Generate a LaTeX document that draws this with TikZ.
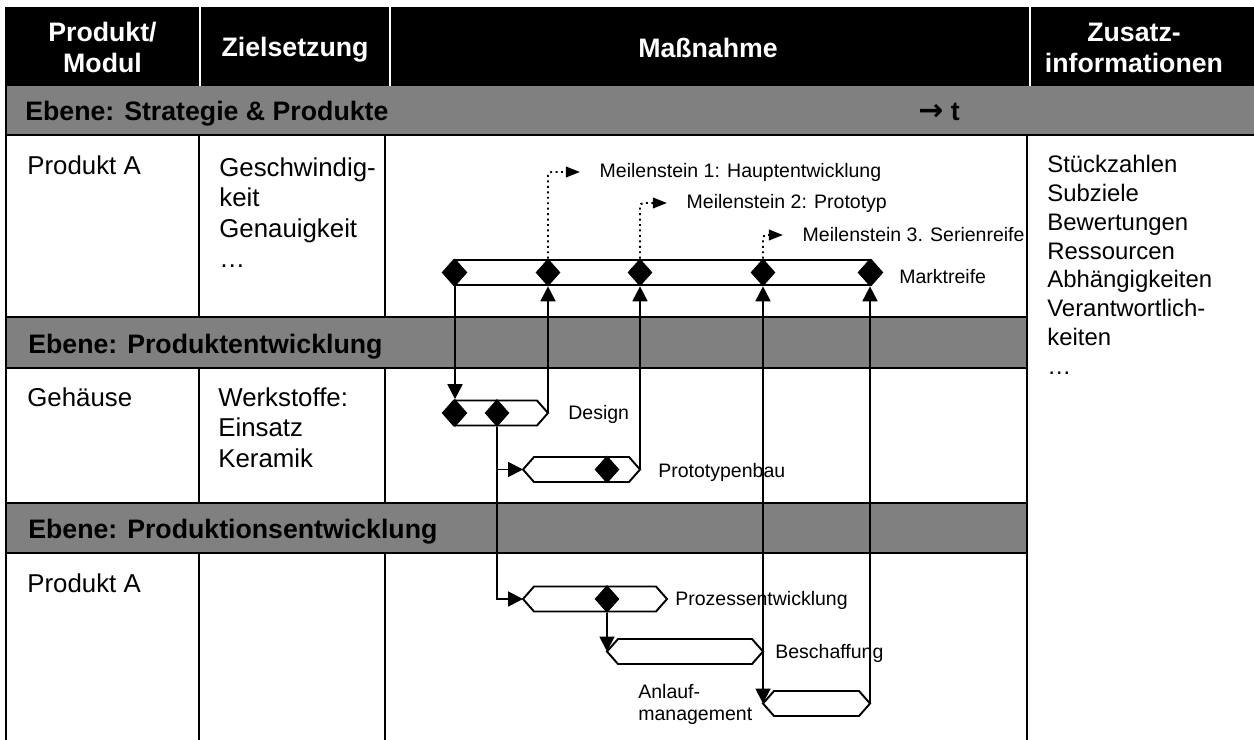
\documentclass[tikz,border=0pt]{standalone}
\usepackage{fontspec}
\setmainfont{Liberation Sans}
\newfontfamily\arrowfont{DejaVu Sans}
\usetikzlibrary{arrows.meta,shapes.geometric}

% Balken mit Spitzen: Name, x links, x rechts, y Mitte
\newcommand{\actbar}[4]{%
  \coordinate (#1-w) at (#2,#4);
  \coordinate (#1-e) at (#3,#4);
  \draw[actbar] (#2,#4) -- (#2+11,#4-12.5) -- (#3-11,#4-12.5) -- (#3,#4)
    -- (#3-11,#4+12.5) -- (#2+11,#4+12.5) -- cycle;
}

\begin{document}
\begin{tikzpicture}[
  x=0.02cm, y=-0.02cm,
  >={Triangle[length=8.5pt,width=8.5pt]},
  headtext/.style={text=white, font=\fontsize{15.2}{17.6}\selectfont\bfseries, align=center, inner sep=0pt, anchor=base},
  bandtext/.style={font=\fontsize{15.2}{17.6}\selectfont\bfseries, inner sep=0pt, anchor=base west},
  celltext/.style={font=\fontsize{14.7}{17.3}\selectfont, align=left, inner sep=0pt, anchor=base west},
  infotext/.style={font=\fontsize{13.6}{16.4}\selectfont, align=left, inner sep=0pt, anchor=base west},
  barlabel/.style={font=\fontsize{11.1}{12.5}\selectfont, align=left, inner sep=0pt, anchor=base west},
  mslabel/.style={font=\fontsize{11.1}{12.5}\selectfont, inner xsep=11pt, inner ysep=0pt, anchor=west},
  gridline/.style={line width=1.1pt},
  band/.style={fill=black!50, draw=black, line width=1.1pt},
  actbar/.style={draw=black, fill=white, line width=1.1pt},
  milestone/.style={diamond, fill=black, draw=black, inner sep=0pt, minimum width=0.48cm, minimum height=0.54cm},
  flow/.style={->, line width=1.1pt},
  pointer/.style={-{Triangle[length=8pt,width=6pt]}, dotted, line width=1.1pt, rounded corners=2pt}
]
\useasboundingbox (0,0) rectangle (1254,740);

% Kopfzeile (mehrzeilige Knoten: base = letzte Zeile)
\fill[black] (5,7) rectangle (1254,86);
\foreach \x in {200,390,1030}
  \draw[white, line width=0.6pt] (\x,7) -- (\x,86);
\node[headtext] (hprod) at (102.5,72) {Produkt/\\Modul};
\node[headtext] (hziel) at (295,57) {Zielsetzung};
\node[headtext] (hmass) at (708,58) {Maßnahme};
\node[headtext] (hzus) at (1134,72) {Zusatz-\\informationen};

% Ebenen
\fill[black!50] (5,86) rectangle (1254,135);
\draw[gridline] (5,135) -- (1254,135);
\draw[band] (6,317) rectangle (1027,368);
\draw[band] (6,503) rectangle (1027,553);
\node[bandtext] (ebene1) at (25,120) {Ebene: Strategie \& Produkte};
\node[bandtext] (tarrow) at (918,120) {{\arrowfont\bfseries\fontsize{17}{17}\selectfont →} t};
\node[bandtext] (ebene2) at (28,353) {Ebene: Produktentwicklung};
\node[bandtext] (ebene3) at (28,538) {Ebene: Produktionsentwicklung};

% Spalten
\draw[gridline] (6,86) -- (6,740);
\foreach \x in {199,385} {
  \draw[gridline] (\x,135) -- (\x,317);
  \draw[gridline] (\x,368) -- (\x,503);
  \draw[gridline] (\x,553) -- (\x,740);
}
\draw[gridline] (1027,135) -- (1027,740);

% Zellen
\node[celltext] (prod1) at (27,174) {Produkt A};
\node[celltext] (ziel1) at (219,267.5) {Geschwindig-\\keit\\Genauigkeit\\…};
\node[celltext] (prod2) at (27,406) {Gehäuse};
\node[celltext] (ziel2) at (218,467) {Werkstoffe:\\Einsatz\\Keramik};
\node[celltext] (prod3) at (27,592) {Produkt A};
\node[infotext] (info) at (1047,374.4) {Stückzahlen\\Subziele\\Bewertungen\\Ressourcen\\Abhängigkeiten\\Verantwortlich-\\keiten\\…};

% Balken
\actbar{mark}{443}{882}{272.5}
\actbar{des}{443}{548}{413}
\actbar{proto}{523}{640}{469.5}
\actbar{proz}{523}{667}{599}
\actbar{besch}{607}{763}{651.5}
\actbar{anl}{763}{870}{703.5}

% Meilensteine
\foreach \n/\x in {1/455,2/548,3/640,4/763,5/870}
  \node[milestone] (m\n) at (\x,272.5) {};
\node[milestone] (d1) at (455,413) {};
\node[milestone] (d2) at (497,413) {};
\node[milestone] (p1) at (607,469.5) {};
\node[milestone] (z1) at (607,599) {};

% Beschriftungen
\node[barlabel] (lmark) at (899,283) {Marktreife};
\node[barlabel] (ldes) at (568,419) {Design};
\node[barlabel] (lproto) at (658,477) {Prototypenbau};
\node[barlabel] (lproz) at (675,605) {Prozessentwicklung};
\node[barlabel] (lbesch) at (775,658) {Beschaffung};
\node[barlabel] (lanl) at (638,720) {Anlauf-\\management};
\node[mslabel] (ms1) at (580,172) {Meilenstein 1: Hauptentwicklung};
\node[mslabel] (ms2) at (667,203) {Meilenstein 2: Prototyp};
\node[mslabel] (ms3) at (783,235) {Meilenstein 3. Serienreife};

% Abhaengigkeiten
\draw[flow] (m1.south) -- (d1.north);
\draw[flow] (d2.south) |- (proz-w);
\draw[flow] (d2.south |- proto-w) -- (proto-w);
\draw[flow] (des-e) -- (m2.south);
\draw[flow] (proto-e) -- (m3.south);
\draw[flow] (z1.south) -- (besch-w);
\draw[flow] (besch-e) -- (m4.south);
\draw[flow] (besch-e) -- (anl-w);
\draw[flow] (anl-e) -- (m5.south);
\draw[pointer] (m2.north) |- (ms1.west);
\draw[pointer] (m3.north) |- (ms2.west);
\draw[pointer] (m4.north) |- (ms3.west);

\end{tikzpicture}
\end{document}
